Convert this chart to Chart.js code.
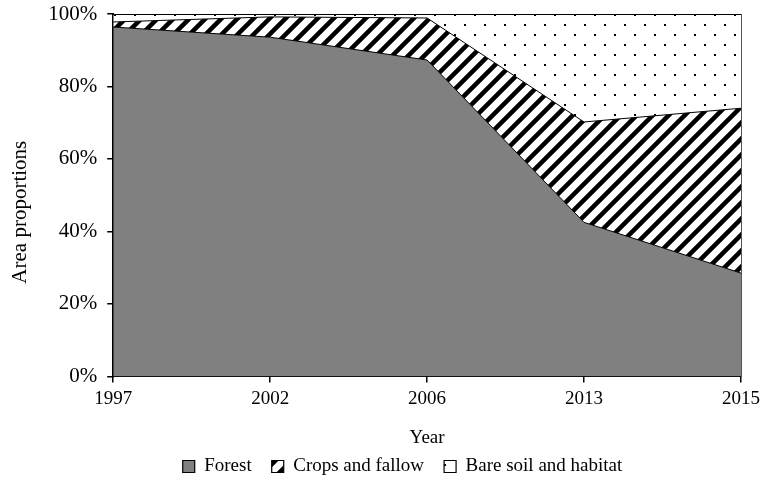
<!DOCTYPE html>
<html>
<head>
<meta charset="utf-8">
<script src="https://cdn.jsdelivr.net/npm/chart.js@4/dist/chart.umd.min.js"></script>
<style>
  html, body { margin: 0; padding: 0; background: #fff; }
  #wrap { width: 765px; height: 480px; }
</style>
</head>
<body>
<div id="wrap"><canvas id="chart"></canvas></div>
<script>
// data (percent of area)
const years = ["1997", "2002", "2006", "2013", "2015"];
const forest = [96.4, 93.6, 87.3, 42.5, 28.5];
const crops = [1.4, 5.6, 11.6, 27.7, 45.5];
const bareSoil = [2.2, 0.8, 1.1, 29.8, 26.0];
const yTicks = [0, 20, 40, 60, 80, 100];

const FONT = "'Liberation Serif', 'Times New Roman', serif";

// hatch pattern (diagonal stripes)
function stripePattern(ctx) {
  const c = document.createElement("canvas");
  c.width = 16; c.height = 16;
  const g = c.getContext("2d");
  g.fillStyle = "#fff";
  g.fillRect(0, 0, 16, 16);
  g.strokeStyle = "#000";
  g.lineWidth = 4.5;
  g.beginPath();
  g.moveTo(-8, 8); g.lineTo(8, -8);
  g.moveTo(0, 16); g.lineTo(16, 0);
  g.moveTo(8, 24); g.lineTo(24, 8);
  g.stroke();
  return ctx.createPattern(c, "repeat");
}

// sparse dots
function dotPattern(ctx) {
  const c = document.createElement("canvas");
  c.width = 20; c.height = 20;
  const g = c.getContext("2d");
  g.fillStyle = "#fff";
  g.fillRect(0, 0, 20, 20);
  g.fillStyle = "#000";
  g.fillRect(4, 4, 2, 2);
  g.fillRect(14, 14, 2, 2);
  return ctx.createPattern(c, "repeat");
}

// pull the legend closer to the axis title, like the original figure
const LEGEND_DX = 17, LEGEND_DY = 12;
const Y_TITLE_DY = 17;
const layoutNudge = {
  id: "layoutNudge",
  afterInit(chart) {
    const lg = chart.legend;
    const fit = lg.fit.bind(lg);
    lg.fit = function () { fit(); this.height -= 18; };
    const draw = lg.draw.bind(lg);
    lg.draw = function () {
      const box = { top: this.top, left: this.left, right: this.right };
      this.top -= LEGEND_DY;
      this.left += LEGEND_DX;
      this.right += LEGEND_DX;
      draw();
      Object.assign(this, box);
    };
  },
  beforeDraw(chart) {
    const y = chart.scales.y;
    if (y._titleNudged) return;
    const drawTitle = y.drawTitle.bind(y);
    y.drawTitle = function () {
      this.ctx.save();
      this.ctx.translate(0, Y_TITLE_DY);
      drawTitle();
      this.ctx.restore();
    };
    y._titleNudged = true;
  },
};

const canvas = document.getElementById("chart");
const ctx = canvas.getContext("2d");

new Chart(ctx, {
  type: "line",
  data: {
    labels: years,
    datasets: [
      {
        label: "Forest",
        data: forest,
        backgroundColor: "#808080",
        borderColor: "#000",
        borderWidth: 1,
        fill: "origin",
      },
      {
        label: "Crops and fallow",
        data: crops,
        backgroundColor: stripePattern(ctx),
        borderColor: "#000",
        borderWidth: 1,
        fill: "-1",
      },
      {
        label: "Bare soil and habitat",
        data: bareSoil,
        backgroundColor: dotPattern(ctx),
        borderColor: "#000",
        borderWidth: 2,
        fill: "-1",
      },
    ],
  },
  options: {
    responsive: true,
    maintainAspectRatio: false,
    animation: false,
    layout: { padding: { top: 0, right: 2, left: 8, bottom: 0 } },
    elements: { point: { radius: 0 }, line: { tension: 0 } },
    scales: {
      x: {
        type: "category",
        offset: false,
        border: { color: "#000", width: 2 },
        grid: { drawOnChartArea: false, drawTicks: true, tickLength: 6, color: "#000", lineWidth: 1.5 },
        ticks: { color: "#000", font: { family: FONT, size: 19 }, padding: 5, maxRotation: 0 },
        title: { display: true, text: "Year", color: "#000", font: { family: FONT, size: 19 }, padding: { top: 11, bottom: 0 } },
      },
      y: {
        stacked: true,
        min: 0,
        max: 100,
        border: { color: "#000", width: 2 },
        grid: { drawOnChartArea: false, drawTicks: true, tickLength: 6, color: "#000", lineWidth: 1.5 },
        afterBuildTicks: (axis) => { axis.ticks = yTicks.map((v) => ({ value: v })); },
        afterFit: (axis) => { axis.paddingTop = 14; },
        ticks: {
          color: "#000",
          font: { family: FONT, size: 21 },
          padding: 10,
          callback: (v) => v + "%",
        },
        title: { display: true, text: "Area proportions", color: "#000", font: { family: FONT, size: 21 }, padding: { top: 0, bottom: 5 } },
      },
      // plain frame line on the right side
      yRight: {
        position: "right",
        min: 0,
        max: 100,
        border: { color: "#555", width: 1 },
        grid: { drawOnChartArea: false, drawTicks: false },
        ticks: { display: false },
        afterFit: (axis) => { axis.width = 0; },
      },
    },
    plugins: {
      legend: {
        position: "bottom",
        labels: {
          color: "#000",
          font: { family: FONT, size: 19 },
          boxWidth: 12,
          boxHeight: 12,
          padding: 20,
          generateLabels: (chart) =>
            Chart.defaults.plugins.legend.labels.generateLabels(chart).map((l) => ({ ...l, lineWidth: 1.2 })),
        },
      },
      tooltip: { enabled: false },
    },
  },
  plugins: [layoutNudge],
});
</script>
</body>
</html>
